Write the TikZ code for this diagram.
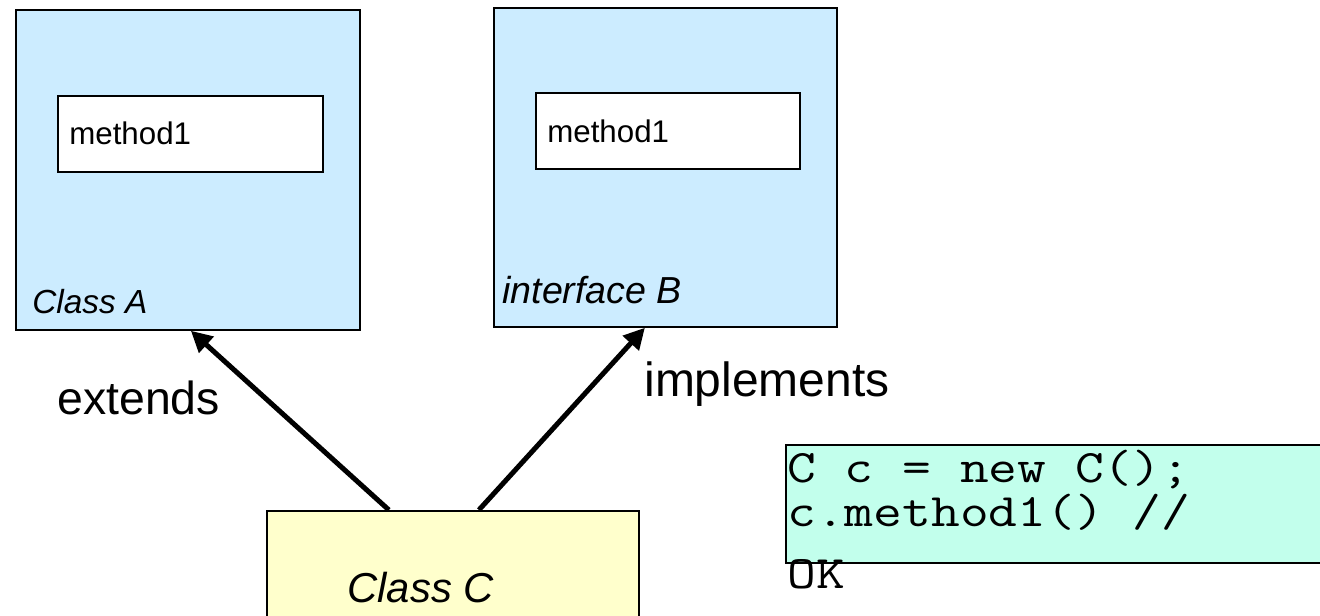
\documentclass[tikz,border=0pt]{standalone}
\usepackage{fontspec}
\setmainfont{Liberation Sans}
\setmonofont[FakeStretch=1.2]{Latin Modern Mono}
\usetikzlibrary{arrows.meta}
\definecolor{classblue}{HTML}{CCECFF}
\definecolor{classyellow}{HTML}{FFFFCC}
\definecolor{codegreen}{HTML}{C2FFEC}
\tikzset{
  classbox/.style={draw,line width=1pt,rectangle,anchor=north west,inner sep=0pt},
  methodbox/.style={draw,line width=1pt,fill=white,rectangle,anchor=north west,inner sep=0pt},
  lbl/.style={anchor=base west,inner sep=0pt},
  codeline/.style={lbl,font=\fontsize{26.5}{25}\ttfamily,text height=17pt,text depth=6pt},
  inherit/.style={-{Triangle[length=0.42cm,width=0.42cm]},line width=0.1cm}
}
\begin{document}
\begin{tikzpicture}[scale=1.0]
\useasboundingbox (0,0) rectangle (26.4,12.32);
\node[classbox,fill=classblue,minimum width=6.88cm,minimum height=6.40cm] (classA) at (0.30,12.14) {};
\node[methodbox,minimum width=5.30cm,minimum height=1.52cm] (methA) at (1.14,10.42) {};
\node[lbl,font=\fontsize{17.8}{20}\selectfont] (methAtxt) at (1.38,9.42) {method1};
\node[lbl,font=\fontsize{19}{22}\selectfont\itshape] (nameA) at (0.64,6.04) {Class A};
\node[classbox,fill=classblue,minimum width=6.86cm,minimum height=6.38cm] (ifaceB) at (9.86,12.18) {};
\node[methodbox,minimum width=5.28cm,minimum height=1.52cm] (methB) at (10.70,10.48) {};
\node[lbl,font=\fontsize{17.8}{20}\selectfont] (methBtxt) at (10.94,9.46) {method1};
\node[lbl,font=\fontsize{21.4}{24}\selectfont\itshape] (nameB) at (10.04,6.24) {interface B};
\node[classbox,fill=classyellow,minimum width=7.44cm,minimum height=3.4cm] (classC) at (5.32,2.12) {};
\node[lbl,font=\fontsize{23.8}{27}\selectfont\itshape] (nameC) at (6.94,0.28) {Class C};
\draw[inherit] ([xshift=-1.28cm]classC.north) -- ([xshift=0.06cm]classA.south);
\draw[inherit] ([xshift=0.52cm]classC.north) -- ([xshift=-0.41cm]ifaceB.south);
\node[lbl,font=\fontsize{26.4}{30}\selectfont] (ext) at (1.14,4.02) {extends};
\node[lbl,font=\fontsize{27.3}{30}\selectfont] (impl) at (12.88,4.38) {implements};
\node[classbox,fill=codegreen,minimum width=11cm,minimum height=2.36cm] (code) at (15.70,3.44) {};
\node[codeline] (code1) at (15.74,2.66) {C c = new C();};
\node[codeline] (code2) at (15.74,1.78) {c.method1() //};
\node[codeline] (ok) at (15.74,0.56) {OK};
\end{tikzpicture}
\end{document}
